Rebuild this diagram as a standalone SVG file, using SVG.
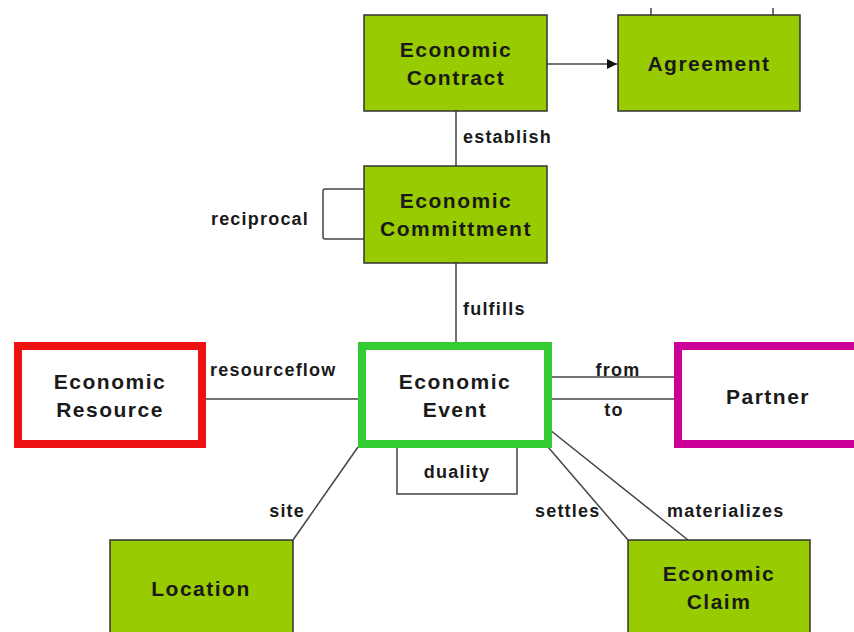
<svg xmlns="http://www.w3.org/2000/svg" width="854" height="632" viewBox="0 0 854 632">
<defs>
<style>
.g{fill:#99cc00;stroke:#333;stroke-width:1.5}
.n{font-family:"Liberation Sans",Arial,sans-serif;font-weight:bold;font-size:21px;letter-spacing:1.5px;fill:#1a1a1a;text-anchor:middle}
.l{font-family:"Liberation Sans",Arial,sans-serif;font-weight:bold;font-size:18px;letter-spacing:1.2px;fill:#1a1a1a}
.c{fill:none;stroke:#444;stroke-width:1.5}
</style>
<marker id="ah" viewBox="0 0 10 10" refX="10" refY="5" markerWidth="11" markerHeight="10" orient="auto" markerUnits="userSpaceOnUse">
<path d="M0,0 L10,5 L0,10 z" fill="#111"/>
</marker>
</defs>
<rect width="854" height="632" fill="#fff"/>
<g id="connectors">
<line class="c" x1="547" y1="64" x2="617" y2="64" marker-end="url(#ah)"/>
<line class="c" x1="651" y1="8" x2="651" y2="15"/>
<line class="c" x1="773" y1="8" x2="773" y2="15"/>
<line class="c" x1="456" y1="111" x2="456" y2="166"/>
<path class="c" d="M364,189 H325 Q323,189 323,191 V237 Q323,239 325,239 H364"/>
<line class="c" x1="456" y1="263" x2="456" y2="342"/>
<line class="c" x1="206" y1="399" x2="358" y2="399"/>
<line class="c" x1="552" y1="377" x2="674" y2="377"/>
<line class="c" x1="552" y1="399" x2="674" y2="399"/>
<path class="c" d="M397,448 V494 H517 V448"/>
<line class="c" x1="358" y1="447" x2="293" y2="540"/>
<line class="c" x1="548" y1="447" x2="628" y2="540"/>
<line class="c" x1="550" y1="430" x2="688" y2="540"/>
<text class="l" x="463" y="143">establish</text>
<text class="l" x="309" y="225" text-anchor="end">reciprocal</text>
<text class="l" x="463" y="315">fulfills</text>
<text class="l" x="210" y="376">resourceflow</text>
<text class="l" x="618" y="376" text-anchor="middle">from</text>
<text class="l" x="614" y="416" text-anchor="middle">to</text>
<text class="l" x="457" y="478" text-anchor="middle">duality</text>
<text class="l" x="305" y="517" text-anchor="end">site</text>
<text class="l" x="535" y="517">settles</text>
<text class="l" x="667" y="517">materializes</text>
</g>
<g id="contract">
<rect class="g" x="364" y="15" width="183" height="96"/>
<text class="n" x="456" y="57">Economic</text>
<text class="n" x="456" y="85">Contract</text>
</g>
<g id="agreement">
<rect class="g" x="618" y="15" width="182" height="96"/>
<text class="n" x="709" y="71">Agreement</text>
</g>
<g id="commitment">
<rect class="g" x="364" y="166" width="183" height="97"/>
<text class="n" x="456" y="208">Economic</text>
<text class="n" x="456" y="236">Committment</text>
</g>
<g id="event">
<rect x="362" y="346" width="186" height="98" fill="#fff" stroke="#33cc33" stroke-width="8"/>
<text class="n" x="455" y="389">Economic</text>
<text class="n" x="455" y="417">Event</text>
</g>
<g id="resource">
<rect x="18" y="346" width="184" height="98" fill="#fff" stroke="#ee1111" stroke-width="8"/>
<text class="n" x="110" y="389">Economic</text>
<text class="n" x="110" y="417">Resource</text>
</g>
<g id="partner">
<rect x="678" y="346" width="190" height="98" fill="#fff" stroke="#cc0099" stroke-width="8"/>
<text class="n" x="768" y="404">Partner</text>
</g>
<g id="location">
<rect class="g" x="110" y="540" width="183" height="100"/>
<text class="n" x="201" y="596">Location</text>
</g>
<g id="claim">
<rect class="g" x="628" y="540" width="182" height="100"/>
<text class="n" x="719" y="581">Economic</text>
<text class="n" x="719" y="609">Claim</text>
</g>
</svg>
